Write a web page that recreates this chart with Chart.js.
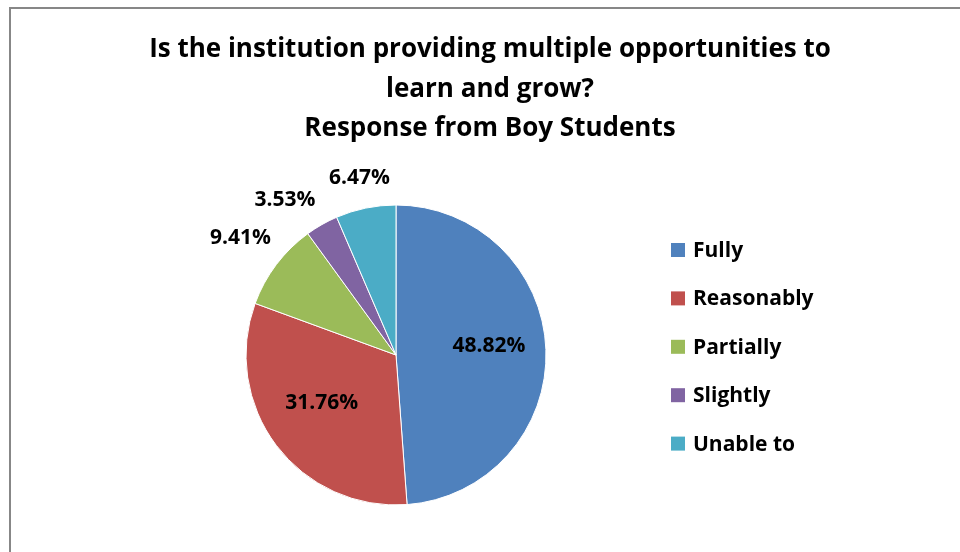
<!DOCTYPE html>
<html>
<head>
<meta charset="utf-8">
<script src="https://cdn.jsdelivr.net/npm/chart.js@4/dist/chart.umd.min.js"></script>
<style>
  html, body { margin: 0; padding: 0; background: #fff; }
  #wrap { position: relative; width: 960px; height: 552px; }
</style>
</head>
<body>
<div id="wrap"><canvas id="pieChart" width="960" height="552"></canvas></div>
<script>
  // chart data
  var titleLines = ['Is the institution providing multiple opportunities to', 'learn and grow?', 'Response from Boy Students'];
  var categories = ['Fully', 'Reasonably', 'Partially', 'Slightly', 'Unable to'];
  var percentages = [48.82, 31.76, 9.41, 3.53, 6.47];
  var sliceColors = ['#4F81BD', '#C0504D', '#9BBB59', '#8064A2', '#4BACC6'];

  var FONT = '"Open Sans", "Liberation Sans", sans-serif';

  // frame around the chart (runs off the right and bottom edges)
  var framePlugin = {
    id: 'frame',
    beforeDraw: function (chart) {
      var ctx = chart.ctx;
      ctx.save();
      ctx.strokeStyle = '#878787';
      ctx.lineWidth = 2;
      ctx.strokeRect(10, 8, 1000, 600);
      ctx.restore();
    }
  };

  function overlaps(a, b) {
    return a.x1 < b.x2 && b.x1 < a.x2 && a.y1 < b.y2 && b.y1 < a.y2;
  }

  // title, percent labels and legend
  var textPlugin = {
    id: 'texts',
    afterDraw: function (chart) {
      var ctx = chart.ctx;
      ctx.save();
      ctx.fillStyle = '#000';
      ctx.textAlign = 'center';
      ctx.textBaseline = 'middle';

      ctx.font = 'bold 26px ' + FONT;
      titleLines.forEach(function (line, i) {
        ctx.fillText(line, 490, 50 + i * 39.5);
      });

      ctx.font = 'bold 21px ' + FONT;
      var meta = chart.getDatasetMeta(0);
      var placed = [];
      // go counter-clockwise so small slices near the top push each other apart
      for (var i = meta.data.length - 1; i >= 0; i--) {
        var p = meta.data[i].getProps(['x', 'y', 'startAngle', 'endAngle', 'outerRadius'], true);
        var mid = (p.startAngle + p.endAngle) / 2;
        var text = percentages[i].toFixed(2) + '%';
        var x, y;
        if (percentages[i] >= 10) {
          x = p.x + Math.cos(mid) * p.outerRadius * 0.62;
          y = p.y + Math.sin(mid) * p.outerRadius * 0.6 - 6;
        } else {
          var w = ctx.measureText(text).width, h = 22;
          var ang = mid, box;
          for (var step = 0; step < 60; step++) {
            var c = Math.cos(ang), s = Math.sin(ang);
            var d = p.outerRadius + 14 + Math.abs(c) * w / 2 + Math.abs(s) * h / 2;
            x = p.x + c * d;
            y = p.y + s * d;
            box = { x1: x - w / 2 - 6, x2: x + w / 2 + 6, y1: y - h / 2 - 3, y2: y + h / 2 + 3 };
            if (!placed.some(function (b) { return overlaps(box, b); })) break;
            ang -= Math.PI / 180;
          }
          placed.push(box);
        }
        ctx.fillText(text, x, y);
      }

      ctx.textAlign = 'left';
      ctx.font = 'bold 21px ' + FONT;
      categories.forEach(function (name, i) {
        var cy = 250 + i * 48.4;
        ctx.fillStyle = sliceColors[i];
        ctx.fillRect(671, cy - 7, 14, 14);
        ctx.fillStyle = '#000';
        ctx.fillText(name, 693, cy + 1);
      });
      ctx.restore();
    }
  };

  new Chart(document.getElementById('pieChart'), {
    type: 'pie',
    data: {
      labels: categories,
      datasets: [{
        data: percentages,
        backgroundColor: sliceColors,
        borderColor: '#ffffff',
        borderWidth: 1,
        radius: 150
      }]
    },
    options: {
      responsive: false,
      animation: false,
      layout: { padding: { top: 170, left: 0, right: 168, bottom: 12 } },
      plugins: {
        legend: { display: false },
        title: { display: false },
        tooltip: { enabled: false }
      }
    },
    plugins: [framePlugin, textPlugin]
  });
</script>
</body>
</html>
